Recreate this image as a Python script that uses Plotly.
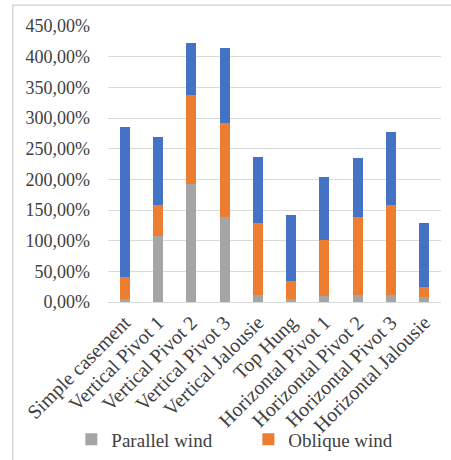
import plotly.graph_objects as go

# Window types on the x axis
categories = [
    "Simple casement", "Vertical Pivot 1", "Vertical Pivot 2", "Vertical Pivot 3",
    "Vertical Jalousie", "Top Hung", "Horizontal Pivot 1", "Horizontal Pivot 2",
    "Horizontal Pivot 3", "Horizontal Jalousie",
]

# Stacked segment values (%)
parallel_wind = [5.4, 108.3, 192.4, 138.3, 11.9, 4.8, 10.3, 11.9, 11.9, 8.1]
oblique_wind = [35.2, 49.5, 145.3, 152.9, 117.1, 28.7, 91.1, 126.9, 145.9, 16.3]
normal_wind = [245.1, 111.6, 85.3, 123.6, 107.9, 108.5, 102.0, 96.5, 118.8, 105.1]

y_ticks = [0, 50, 100, 150, 200, 250, 300, 350, 400, 450]
y_tick_text = [f"{v:.2f}".replace(".", ",") + "%" for v in y_ticks]

serif = "Liberation Serif, Times New Roman, serif"
text_color = "#404040"

fig = go.Figure()
fig.add_trace(go.Bar(x=categories, y=parallel_wind, name="Parallel wind",
                     marker=dict(color="#A5A5A5", line=dict(width=0))))
fig.add_trace(go.Bar(x=categories, y=oblique_wind, name="Oblique wind",
                     marker=dict(color="#ED7D31", line=dict(width=0))))
fig.add_trace(go.Bar(x=categories, y=normal_wind, name="Normal wind",
                     marker=dict(color="#4472C4", line=dict(width=0)),
                     showlegend=False))

fig.update_layout(
    width=451, height=460,
    barmode="stack",
    bargap=0.7,
    paper_bgcolor="white",
    plot_bgcolor="white",
    margin=dict(l=108, r=10, t=26, b=158, autoexpand=False),
    font=dict(family=serif, size=18, color=text_color),
    showlegend=True,
    legend=dict(
        orientation="h",
        traceorder="normal",
        x=-0.11, xanchor="left",
        y=-0.498, yanchor="middle",
        font=dict(family=serif, size=19, color=text_color),
        entrywidth=132,
        itemwidth=30,
        bgcolor="rgba(0,0,0,0)",
    ),
    xaxis=dict(
        tickangle=-45,
        tickfont=dict(family=serif, size=20, color=text_color),
        showline=True, linecolor="#D9D9D9", linewidth=1,
        ticks="",
        showgrid=False,
    ),
    yaxis=dict(
        range=[0, 450],
        tickvals=y_ticks,
        ticktext=y_tick_text,
        tickfont=dict(family=serif, size=18, color=text_color),
        showgrid=True, gridcolor="#D9D9D9", gridwidth=1,
        zeroline=False,
        ticks="",
        ticklabelstandoff=17,
    ),
    shapes=[dict(
        type="rect", xref="paper", yref="paper",
        x0=-0.286, x1=1.6, y0=-0.8, y1=1.075,
        line=dict(color="#D9D9D9", width=1.5),
        layer="below",
    )],
)

fig.write_html("out.html")
